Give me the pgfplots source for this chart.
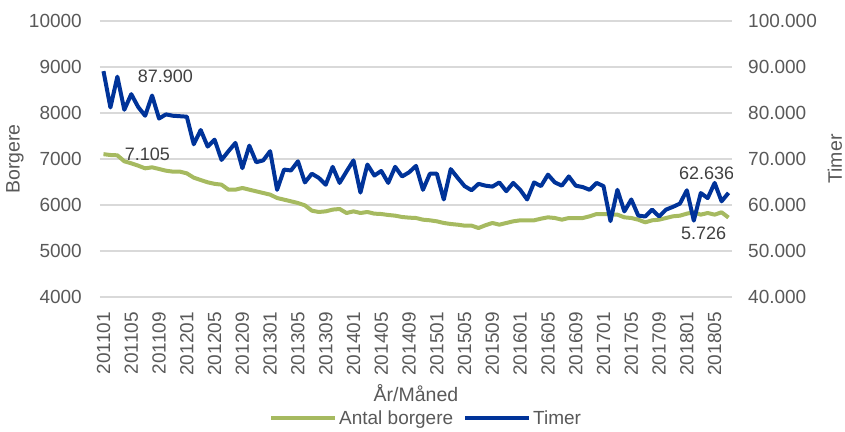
\documentclass[border=0pt]{standalone}
\usepackage{fontspec}
\setmainfont{Liberation Sans}
\usepackage{pgfplots}
\usepackage{pgfplotstable}
\pgfplotsset{compat=1.18}

\definecolor{timerblue}{RGB}{0,51,153}
\definecolor{borgergreen}{RGB}{166,186,96}
\definecolor{gridgray}{RGB}{217,217,217}
\definecolor{textgray}{RGB}{89,89,89}
\definecolor{labelgray}{RGB}{64,64,64}

% idx 0 = 201101, monthly
\pgfplotstableread{
idx borgere timer
0  7105 89100
1  7087 81200
2  7080 87900
3  6950 80700
4  6906 84100
5  6855 81300
6  6797 79400
7  6819 83800
8  6783 78800
9  6746 79700
10 6725 79400
11 6725 79300
12 6688 79200
13 6594 73200
14 6543 76300
15 6493 72700
16 6460 74200
17 6442 69800
18 6333 71700
19 6333 73500
20 6370 68000
21 6333 72900
22 6297 69300
23 6261 69700
24 6225 71700
25 6152 63300
26 6116 67700
27 6080 67500
28 6043 69500
29 5993 64900
30 5877 66800
31 5848 65900
32 5862 64400
33 5900 68300
34 5913 64800
35 5826 67300
36 5862 69700
37 5826 62700
38 5848 68800
39 5812 66400
40 5804 67400
41 5783 64800
42 5768 68300
43 5739 66200
44 5725 67100
45 5717 68500
46 5681 63300
47 5667 66800
48 5645 66800
49 5609 61200
50 5587 67800
51 5572 65900
52 5551 64100
53 5551 63200
54 5500 64600
55 5560 64200
56 5609 64000
57 5572 64900
58 5609 63000
59 5645 64800
60 5667 63300
61 5667 61200
62 5667 64900
63 5703 64100
64 5732 66600
65 5717 64900
66 5681 64200
67 5717 66200
68 5717 64200
69 5717 63900
70 5754 63300
71 5804 64800
72 5804 64100
73 5797 56500
74 5790 63300
75 5732 58600
76 5717 61200
77 5681 57700
78 5623 57500
79 5667 59000
80 5681 57500
81 5717 59000
82 5754 59600
83 5768 60300
84 5812 63200
85 5841 56600
86 5790 62600
87 5826 61500
88 5790 64800
89 5841 60800
90 5726 62636
}\data

\pgfplotsset{
  basestyle/.style={
    scale only axis, width=632pt, height=276pt,
    xmin=-0.5, xmax=90.5,
    axis line style={draw=none},
    major tick length=0pt,
    scaled y ticks=false,
    tick label style={font=\fontsize{19}{22}\selectfont, text=textgray, inner sep=0pt},
    label style={font=\fontsize{19.5}{22}\selectfont, text=textgray},
  },
}

\begin{document}
\begin{tikzpicture}
\begin{axis}[
  basestyle,
  ymin=4000, ymax=10000,
  ytick={4000,5000,...,10000},
  yticklabels={4000,5000,6000,7000,8000,9000,10000},
  ymajorgrids,
  grid style={gridgray, line width=1.2pt},
  yticklabel shift=18pt,
  xtick={0,4,...,88},
  xticklabels={201101,201105,201109,201201,201205,201209,201301,201305,201309,
    201401,201405,201409,201501,201505,201509,201601,201605,201609,
    201701,201705,201709,201801,201805},
  xticklabel style={rotate=90, anchor=east},
  xticklabel shift=15pt,
  xlabel={År/Måned},
  xlabel style={at={(axis description cs:0.5,-0.348)}, anchor=center},
  ylabel={Borgere},
  ylabel style={at={(axis description cs:-0.1345,0.5)}, anchor=center},
  legend columns=2,
  legend style={draw=none, fill=none, at={(0.516,-0.438)}, anchor=center,
    font=\fontsize{19}{22}\selectfont, text=textgray,
    /tikz/every even column/.append style={column sep=8pt}},
  legend image code/.code={\draw[#1] (0pt,0pt) -- (64pt,0pt);},
]
\coordinate (SW) at (rel axis cs:0,0);
\coordinate (NE) at (rel axis cs:1,1);
\addplot[borgergreen, line width=4pt, line join=round] table[x=idx, y=borgere] {\data};
\addlegendentry{Antal borgere}
\addlegendimage{timerblue, line width=4pt}
\addlegendentry{Timer}
\node[anchor=west, font=\fontsize{18}{20}\selectfont, text=labelgray, xshift=4pt] at (axis cs:2,7105) {7.105};
\node[font=\fontsize{18}{20}\selectfont, text=labelgray, xshift=-25pt, yshift=-15.5pt] at (axis cs:90,5726) {5.726};
\end{axis}

\begin{axis}[
  basestyle,
  axis y line*=right,
  axis x line=none,
  xtick=\empty,
  ymin=40000, ymax=100000,
  ytick={40000,50000,...,100000},
  yticklabels={40.000,50.000,60.000,70.000,80.000,90.000,100.000},
  yticklabel style={anchor=west},
  yticklabel shift=16pt,
  ylabel={Timer},
  ylabel style={at={(axis description cs:1.163,0.5)}, anchor=center},
]
\addplot[timerblue, line width=4pt, line join=round] table[x=idx, y=timer] {\data};
\node[anchor=west, font=\fontsize{18}{20}\selectfont, text=labelgray, xshift=17pt] at (axis cs:2,87900) {87.900};
\node[font=\fontsize{18}{20}\selectfont, text=labelgray, xshift=-22pt, yshift=20pt] at (axis cs:90,62636) {62.636};
\end{axis}

\pgfresetboundingbox
\path ([shift={(-100pt,-135pt)}]SW) rectangle ([shift={(113pt,21pt)}]NE);
\end{tikzpicture}
\end{document}
